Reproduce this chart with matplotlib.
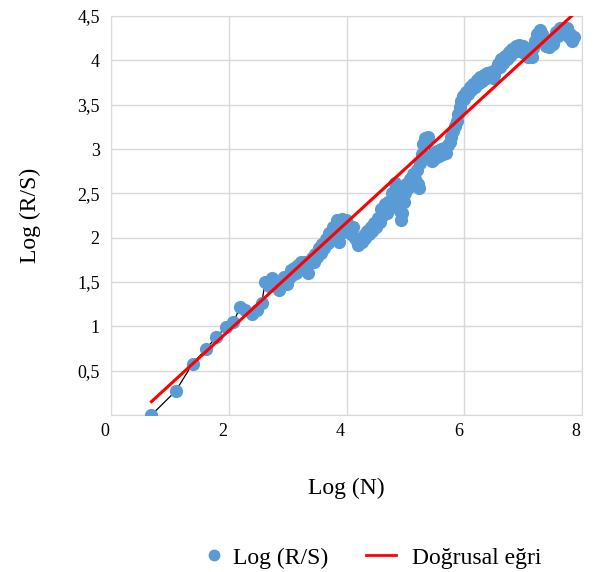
import numpy as np
import matplotlib.pyplot as plt
import matplotlib.transforms as mtransforms
from matplotlib.lines import Line2D

plt.rcParams['font.family'] = ['Liberation Serif', 'DejaVu Serif']

# Log(N) ve Log(R/S) degerleri
log_n = [0.69, 1.10, 1.39, 1.61, 1.79, 1.95, 2.08, 2.20, 2.28, 2.39, 2.48, 2.56,
         2.62, 2.68, 2.74, 2.79, 2.85, 2.90, 2.94, 2.99,
         3.02, 3.05, 3.08, 3.11, 3.14, 3.17, 3.20, 3.23, 3.26, 3.29, 3.32, 3.35,
         3.38, 3.41, 3.44, 3.47, 3.50, 3.53, 3.56, 3.59, 3.62, 3.65, 3.68, 3.71,
         3.74, 3.77, 3.80, 3.83, 3.86, 3.88, 3.90, 3.93, 3.96, 3.99, 4.02, 4.05,
         4.08, 4.11, 4.14, 4.17, 4.20, 4.23, 4.26, 4.29, 4.32, 4.35, 4.38, 4.41,
         4.44, 4.47, 4.50, 4.53, 4.56, 4.59, 4.62, 4.65, 4.68, 4.71, 4.74, 4.77,
         4.80, 4.82, 4.85, 4.87, 4.89, 4.91, 4.93, 4.95, 4.97, 4.99, 5.01, 5.04,
         5.07, 5.10, 5.13, 5.16, 5.19, 5.21, 5.23, 5.25, 5.28, 5.30, 5.33, 5.36,
         5.39, 5.42, 5.45, 5.48, 5.51, 5.54, 5.57, 5.60, 5.63, 5.66, 5.69, 5.72,
         5.75, 5.78, 5.81, 5.84, 5.87, 5.90, 5.93, 5.95, 5.97, 6.00, 6.03, 6.06,
         6.09, 6.12, 6.15, 6.18, 6.21, 6.24, 6.27, 6.30, 6.33, 6.36, 6.39, 6.42,
         6.45, 6.48, 6.51, 6.54, 6.57, 6.60, 6.63, 6.66, 6.69, 6.72, 6.75, 6.78,
         6.81, 6.84, 6.87, 6.90, 6.93, 6.96, 6.99, 7.02, 7.05, 7.08, 7.11, 7.14,
         7.17, 7.20, 7.23, 7.26, 7.29, 7.32, 7.35, 7.38, 7.41, 7.44, 7.47, 7.50,
         7.53, 7.56, 7.59, 7.62, 7.65, 7.68, 7.71, 7.74, 7.77, 7.80, 7.83, 7.86]
log_rs = [0.00, 0.27, 0.58, 0.74, 0.88, 0.99, 1.05, 1.22, 1.18, 1.14, 1.18, 1.26,
          1.50, 1.45, 1.54, 1.48, 1.41, 1.52, 1.56, 1.48,
          1.55, 1.64, 1.58, 1.66, 1.60, 1.69, 1.63, 1.72, 1.66, 1.73, 1.65, 1.60,
          1.72, 1.77, 1.72, 1.82, 1.78, 1.88, 1.83, 1.93, 1.88, 1.98, 1.94, 2.05,
          2.00, 2.12, 2.08, 2.20, 2.12, 1.95, 2.05, 2.21, 2.15, 2.20, 2.08, 2.13,
          2.04, 2.12, 2.00, 1.96, 1.92, 1.98, 1.95, 2.03, 2.00, 2.08, 2.04, 2.12,
          2.08, 2.16, 2.12, 2.22, 2.18, 2.32, 2.26, 2.38, 2.28, 2.40, 2.36, 2.50,
          2.44, 2.62, 2.56, 2.48, 2.40, 2.30, 2.20, 2.28, 2.40, 2.50, 2.60, 2.56,
          2.66, 2.62, 2.72, 2.66, 2.76, 2.60, 2.56, 2.84, 2.94, 3.06, 3.12, 3.08,
          3.14, 2.92, 2.86, 2.96, 2.90, 2.98, 2.92, 3.00, 2.94, 3.01, 2.96, 3.04,
          3.08, 3.14, 3.20, 3.26, 3.32, 3.40, 3.47, 3.54, 3.60, 3.56, 3.64, 3.62,
          3.70, 3.66, 3.73, 3.70, 3.78, 3.74, 3.81, 3.77, 3.84, 3.80, 3.86, 3.81,
          3.87, 3.80, 3.84, 3.90, 3.96, 3.93, 4.01, 3.97, 4.05, 4.01, 4.09, 4.05,
          4.13, 4.09, 4.16, 4.11, 4.17, 4.12, 4.16, 4.08, 4.12, 4.04, 4.09, 4.04,
          4.14, 4.22, 4.30, 4.26, 4.34, 4.30, 4.24, 4.16, 4.20, 4.15, 4.22, 4.18,
          4.27, 4.32, 4.28, 4.36, 4.32, 4.37, 4.33, 4.36, 4.26, 4.30, 4.22, 4.26]

# Dogrusal egri (trend cizgisi) katsayilari
trend_slope = 0.61
trend_intercept = -0.27
trend_x = np.array([0.69, 7.85])
trend_y = trend_slope * trend_x + trend_intercept

fig = plt.figure(figsize=(6.09, 5.72), dpi=100)
ax = fig.add_axes([0.182, 0.2745, 0.774, 0.6975])

ax.plot(log_n, log_rs, '-', color='black', lw=0.9, zorder=2)
ax.plot(log_n, log_rs, 'o', color='#5B9BD5', ms=8.5, mec='#5B9BD5', zorder=3)
ax.plot(trend_x, trend_y, color='#FF0000', lw=2.2, zorder=4)

ax.set_xlim(0, 8)
ax.set_ylim(0, 4.5)
ax.set_xticks([0, 2, 4, 6, 8])
ax.set_yticks([0, 0.5, 1, 1.5, 2, 2.5, 3, 3.5, 4, 4.5])
ax.set_xticklabels(['0', '2', '4', '6', '8'])
ax.set_yticklabels(['', '0,5', '1', '1,5', '2', '2,5', '3', '3,5', '4', '4,5'])
ax.tick_params(length=0, labelsize=13)
ax.tick_params(axis='x', pad=6)
ax.tick_params(axis='y', pad=8)
ax.grid(True, color='#D9D9D9', lw=1)
ax.set_axisbelow(True)
for s in ax.spines.values():
    s.set_color('#D9D9D9')

# x etiketleri biraz sola kayik
shift = mtransforms.ScaledTranslation(-6 / 100, 0, fig.dpi_scale_trans)
for lbl in ax.get_xticklabels():
    lbl.set_transform(lbl.get_transform() + shift)

ax.set_xlabel('Log (N)', fontsize=17, labelpad=27)
ax.set_ylabel('Log (R/S)', fontsize=17, labelpad=26)

h1 = Line2D([], [], marker='o', ls='none', color='#5B9BD5', ms=7.5)
h2 = Line2D([], [], color='#FF0000', lw=2)
leg1 = fig.legend([h1], ['Log (R/S)'], loc='center left', bbox_to_anchor=(0.3276, 0.0245),
                  frameon=False, fontsize=17, handlelength=1.25, handletextpad=0.15,
                  borderpad=0, borderaxespad=0)
leg2 = fig.legend([h2], ['Doğrusal eğri'], loc='center left', bbox_to_anchor=(0.601, 0.0245),
                  frameon=False, fontsize=17, handlelength=1.25, handletextpad=0.68,
                  borderpad=0, borderaxespad=0)

fig.savefig('out.png', dpi=100)
